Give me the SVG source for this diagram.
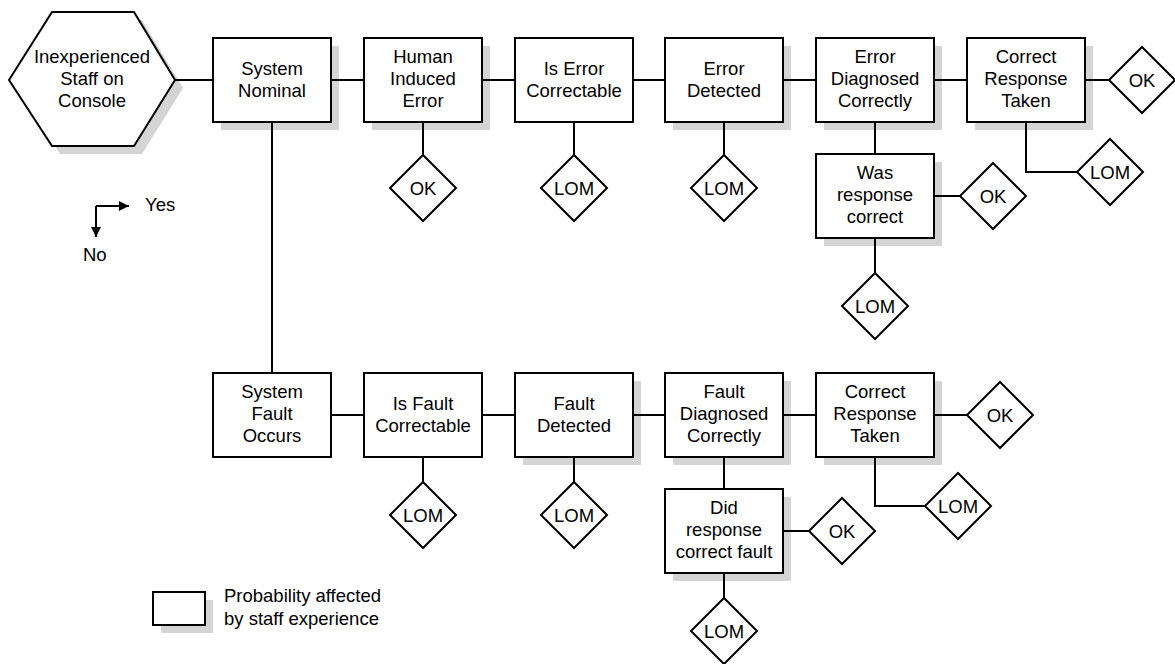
<svg xmlns="http://www.w3.org/2000/svg" width="1175" height="664" viewBox="0 0 1175 664">
  <style>
    .box { fill: #ffffff; stroke: #000000; stroke-width: 2; }
    .shadow { fill: #d4d4d4; stroke: none; }
    .wire { fill: none; stroke: #000000; stroke-width: 2; }
    .lbl { font-family: "Liberation Sans", Arial, sans-serif; font-size: 18.5px; fill: #000000; text-anchor: middle; }
    .lgd { font-family: "Liberation Sans", Arial, sans-serif; font-size: 18.5px; fill: #000000; }
  </style>
  <defs>
    <polygon id="dia" class="box" points="0,-33 33,0 0,33 -33,0"/>
    <marker id="arr" markerWidth="12" markerHeight="12" refX="10" refY="5" orient="auto" markerUnits="userSpaceOnUse">
      <path d="M0,0 L10,5 L0,10 Z" fill="#000000"/>
    </marker>
  </defs>
  <rect width="1175" height="664" fill="#ffffff"/>

  <!-- drop shadows of the experience-sensitive steps -->
  <g id="shadows">
    <polygon class="shadow" points="17,88 60,20 142,20 183,88 142,154 60,154"/>
    <rect class="shadow" x="221" y="46" width="118" height="84"/>
    <rect class="shadow" x="372" y="46" width="118" height="84"/>
    <rect class="shadow" x="673" y="46" width="118" height="84"/>
    <rect class="shadow" x="824" y="46" width="118" height="84"/>
    <rect class="shadow" x="975" y="46" width="118" height="84"/>
    <rect class="shadow" x="824" y="162" width="118" height="84"/>
    <rect class="shadow" x="523" y="381" width="118" height="84"/>
    <rect class="shadow" x="673" y="381" width="118" height="84"/>
    <rect class="shadow" x="824" y="381" width="118" height="84"/>
    <rect class="shadow" x="673" y="497" width="118" height="84"/>
    <rect class="shadow" x="161" y="600" width="52" height="33"/>
  </g>

  <!-- connectors -->
  <g id="connectors">
    <path class="wire" d="M175,80 H213 M331,80 H364 M482,80 H515 M633,80 H665 M783,80 H816 M934,80 H967 M1085,80 H1109"/>
    <path class="wire" d="M423,122 V155 M574,122 V155 M724,122 V155"/>
    <path class="wire" d="M875,122 V154 M875,238 V273 M934,196 H960"/>
    <path class="wire" d="M1026,122 V172 H1077"/>
    <path class="wire" d="M272,122 V373"/>
    <path class="wire" d="M331,415 H364 M482,415 H515 M633,415 H665 M783,415 H816 M934,415 H967"/>
    <path class="wire" d="M423,457 V482 M574,457 V482 M724,457 V489 M724,573 V598 M783,531 H809"/>
    <path class="wire" d="M875,457 V506 H925"/>
  </g>

  <!-- start node -->
  <g id="start">
    <polygon class="box" points="9,80 52,12 134,12 175,80 134,146 52,146"/>
    <text class="lbl" x="92" y="63">Inexperienced</text>
    <text class="lbl" x="92" y="85">Staff on</text>
    <text class="lbl" x="92" y="107">Console</text>
  </g>

  <!-- upper branch -->
  <g id="system-nominal">
    <rect class="box" x="213" y="38" width="118" height="84"/>
    <text class="lbl" x="272" y="75">System</text>
    <text class="lbl" x="272" y="97">Nominal</text>
  </g>
  <g id="human-error">
    <rect class="box" x="364" y="38" width="118" height="84"/>
    <text class="lbl" x="423" y="63">Human</text>
    <text class="lbl" x="423" y="85">Induced</text>
    <text class="lbl" x="423" y="107">Error</text>
  </g>
  <g id="error-correctable">
    <rect class="box" x="515" y="38" width="118" height="84"/>
    <text class="lbl" x="574" y="75">Is Error</text>
    <text class="lbl" x="574" y="97">Correctable</text>
  </g>
  <g id="error-detected">
    <rect class="box" x="665" y="38" width="118" height="84"/>
    <text class="lbl" x="724" y="75">Error</text>
    <text class="lbl" x="724" y="97">Detected</text>
  </g>
  <g id="error-diagnosed">
    <rect class="box" x="816" y="38" width="118" height="84"/>
    <text class="lbl" x="875" y="63">Error</text>
    <text class="lbl" x="875" y="85">Diagnosed</text>
    <text class="lbl" x="875" y="107">Correctly</text>
  </g>
  <g id="error-response">
    <rect class="box" x="967" y="38" width="118" height="84"/>
    <text class="lbl" x="1026" y="63">Correct</text>
    <text class="lbl" x="1026" y="85">Response</text>
    <text class="lbl" x="1026" y="107">Taken</text>
  </g>
  <g id="was-response-correct">
    <rect class="box" x="816" y="154" width="118" height="84"/>
    <text class="lbl" x="875" y="179">Was</text>
    <text class="lbl" x="875" y="201">response</text>
    <text class="lbl" x="875" y="223">correct</text>
  </g>

  <!-- upper outcomes -->
  <g id="ok-error-response">
    <use href="#dia" x="1142" y="80"/>
    <text class="lbl" x="1142" y="87">OK</text>
  </g>
  <g id="ok-human-error">
    <use href="#dia" x="423" y="188"/>
    <text class="lbl" x="423" y="195">OK</text>
  </g>
  <g id="lom-error-correctable">
    <use href="#dia" x="574" y="188"/>
    <text class="lbl" x="574" y="195">LOM</text>
  </g>
  <g id="lom-error-detected">
    <use href="#dia" x="724" y="188"/>
    <text class="lbl" x="724" y="195">LOM</text>
  </g>
  <g id="lom-error-response">
    <use href="#dia" x="1110" y="172"/>
    <text class="lbl" x="1110" y="179">LOM</text>
  </g>
  <g id="ok-was-response">
    <use href="#dia" x="993" y="196"/>
    <text class="lbl" x="993" y="203">OK</text>
  </g>
  <g id="lom-was-response">
    <use href="#dia" x="875" y="306"/>
    <text class="lbl" x="875" y="313">LOM</text>
  </g>

  <!-- lower branch -->
  <g id="system-fault">
    <rect class="box" x="213" y="373" width="118" height="84"/>
    <text class="lbl" x="272" y="398">System</text>
    <text class="lbl" x="272" y="420">Fault</text>
    <text class="lbl" x="272" y="442">Occurs</text>
  </g>
  <g id="fault-correctable">
    <rect class="box" x="364" y="373" width="118" height="84"/>
    <text class="lbl" x="423" y="410">Is Fault</text>
    <text class="lbl" x="423" y="432">Correctable</text>
  </g>
  <g id="fault-detected">
    <rect class="box" x="515" y="373" width="118" height="84"/>
    <text class="lbl" x="574" y="410">Fault</text>
    <text class="lbl" x="574" y="432">Detected</text>
  </g>
  <g id="fault-diagnosed">
    <rect class="box" x="665" y="373" width="118" height="84"/>
    <text class="lbl" x="724" y="398">Fault</text>
    <text class="lbl" x="724" y="420">Diagnosed</text>
    <text class="lbl" x="724" y="442">Correctly</text>
  </g>
  <g id="fault-response">
    <rect class="box" x="816" y="373" width="118" height="84"/>
    <text class="lbl" x="875" y="398">Correct</text>
    <text class="lbl" x="875" y="420">Response</text>
    <text class="lbl" x="875" y="442">Taken</text>
  </g>
  <g id="did-response-correct">
    <rect class="box" x="665" y="489" width="118" height="84"/>
    <text class="lbl" x="724" y="514">Did</text>
    <text class="lbl" x="724" y="536">response</text>
    <text class="lbl" x="724" y="558">correct fault</text>
  </g>

  <!-- lower outcomes -->
  <g id="lom-fault-correctable">
    <use href="#dia" x="423" y="515"/>
    <text class="lbl" x="423" y="522">LOM</text>
  </g>
  <g id="lom-fault-detected">
    <use href="#dia" x="574" y="515"/>
    <text class="lbl" x="574" y="522">LOM</text>
  </g>
  <g id="ok-fault-response">
    <use href="#dia" x="1000" y="415"/>
    <text class="lbl" x="1000" y="422">OK</text>
  </g>
  <g id="lom-fault-response">
    <use href="#dia" x="958" y="506"/>
    <text class="lbl" x="958" y="513">LOM</text>
  </g>
  <g id="ok-did-response">
    <use href="#dia" x="842" y="531"/>
    <text class="lbl" x="842" y="538">OK</text>
  </g>
  <g id="lom-did-response">
    <use href="#dia" x="724" y="631"/>
    <text class="lbl" x="724" y="638">LOM</text>
  </g>

  <!-- direction key -->
  <g id="direction-key">
    <path class="wire" d="M96,206 H129" stroke-width="1.5" marker-end="url(#arr)"/>
    <path class="wire" d="M96,206 V237" stroke-width="1.5" marker-end="url(#arr)"/>
    <text class="lgd" x="145" y="211">Yes</text>
    <text class="lgd" x="83" y="261">No</text>
  </g>

  <!-- legend -->
  <g id="legend">
    <rect class="box" x="153" y="592" width="52" height="33"/>
    <text class="lgd" x="224" y="602">Probability affected</text>
    <text class="lgd" x="224" y="625">by staff experience</text>
  </g>
</svg>
